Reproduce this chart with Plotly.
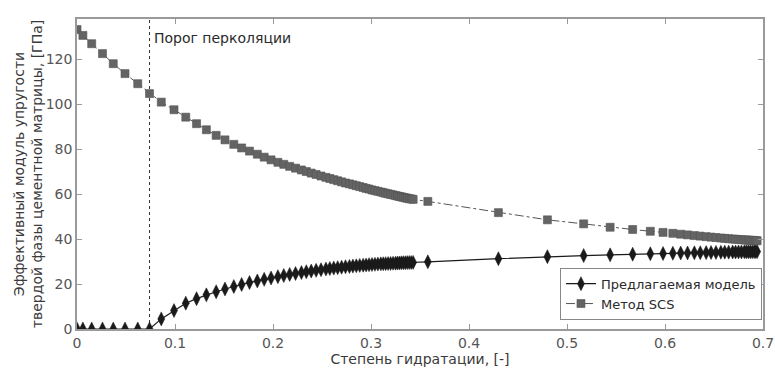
import plotly.graph_objects as go

# Hydration degree (x) shared by both series
hydration = [
    0.000, 0.006, 0.015, 0.026, 0.037, 0.049, 0.062, 0.074, 0.086, 0.099,
    0.111, 0.122, 0.132, 0.142, 0.151, 0.160, 0.168, 0.176, 0.184, 0.191,
    0.198, 0.205, 0.211, 0.217, 0.223, 0.229, 0.234, 0.239, 0.244, 0.249,
    0.254, 0.258, 0.262, 0.266, 0.270, 0.274, 0.278, 0.2815, 0.285, 0.2885,
    0.292, 0.295, 0.298, 0.301, 0.304, 0.307, 0.310, 0.3125, 0.315, 0.3175,
    0.320, 0.3225, 0.325, 0.327, 0.329, 0.331, 0.333, 0.335, 0.337, 0.339,
    0.341, 0.343,
    0.358, 0.430, 0.480, 0.517, 0.544, 0.567, 0.585, 0.598, 0.608,
    0.616, 0.623, 0.630, 0.636, 0.642, 0.647, 0.652, 0.657, 0.661, 0.665,
    0.669, 0.672, 0.675, 0.678, 0.681, 0.683, 0.685, 0.687, 0.689, 0.691,
    0.6925, 0.694,
]

# Proposed model, GPa
model_vals = [
    0.0, 0.0, 0.0, 0.0, 0.0, 0.0, 0.0, 0.0, 4.5, 8.2,
    11.5, 13.5, 15.2, 16.6, 17.8, 18.9, 19.8, 20.7, 21.4, 22.1,
    22.7, 23.3, 23.8, 24.3, 24.7, 25.1, 25.5, 25.8, 26.1, 26.4,
    26.7, 26.9, 27.1, 27.3, 27.5, 27.7, 27.85, 28.0, 28.15, 28.3,
    28.4, 28.5, 28.6, 28.7, 28.8, 28.9, 29.0, 29.05, 29.1, 29.15,
    29.2, 29.25, 29.3, 29.35, 29.4, 29.45, 29.5, 29.5, 29.55, 29.6,
    29.6, 29.65,
    29.9, 31.3, 32.2, 32.7, 33.0, 33.3, 33.5, 33.6, 33.7,
    33.8, 33.85, 33.9, 33.95, 34.0, 34.05, 34.1, 34.15, 34.2, 34.2,
    34.25, 34.25, 34.3, 34.3, 34.35, 34.35, 34.4, 34.4, 34.4, 34.45,
    34.45, 34.45,
]

# SCS method, GPa
scs_vals = [
    133.3, 130.7, 127.0, 122.6, 118.1, 113.7, 109.2, 104.8, 101.0, 97.6,
    94.3, 91.4, 88.7, 86.2, 84.2, 82.2, 80.6, 79.2, 77.8, 76.5,
    75.3, 74.2, 73.3, 72.4, 71.6, 70.8, 70.1, 69.4, 68.8, 68.1,
    67.5, 67.0, 66.5, 66.0, 65.5, 65.0, 64.6, 64.2, 63.8, 63.4,
    63.0, 62.6, 62.3, 61.9, 61.6, 61.3, 61.0, 60.7, 60.4, 60.2,
    59.9, 59.7, 59.4, 59.2, 59.0, 58.8, 58.6, 58.4, 58.2, 58.0,
    57.9, 57.7,
    56.8, 51.8, 48.6, 46.8, 45.3, 44.3, 43.5, 43.0, 42.6,
    42.2, 41.9, 41.6, 41.35, 41.1, 40.9, 40.7, 40.5, 40.35, 40.2,
    40.05, 39.95, 39.85, 39.75, 39.65, 39.6, 39.55, 39.5, 39.45, 39.4,
    39.35, 39.3,
]

perc_threshold = 0.074
perc_label = "Порог перколяции"
x_ticks = [0, 0.1, 0.2, 0.3, 0.4, 0.5, 0.6, 0.7]
x_tick_labels = ["0", "0.1", "0.2", "0.3", "0.4", "0.5", "0.6", "0.7"]
y_ticks = [0, 20, 40, 60, 80, 100, 120]
series_names = ["Предлагаемая модель", "Метод SCS"]

FONT = "DejaVu Sans, Liberation Sans, Arial, sans-serif"
TXT = "#3a3a3a"
AX = "#9a9a9a"

fig = go.Figure()

fig.add_trace(go.Scatter(
    x=hydration, y=model_vals, name=series_names[0], mode="lines+markers",
    line=dict(color="#1a1a1a", width=1.2),
    marker=dict(symbol="diamond-tall", size=10, color="#1a1a1a",
                line=dict(color="#1a1a1a", width=0.5)),
))
fig.add_trace(go.Scatter(
    x=hydration, y=scs_vals, name=series_names[1], mode="lines+markers",
    line=dict(color="#555555", width=1, dash="dashdot"),
    marker=dict(symbol="square", size=8, color="#646464",
                line=dict(color="#555555", width=0.6)),
))

fig.add_shape(type="line", xref="x", yref="paper",
              x0=perc_threshold, x1=perc_threshold, y0=0, y1=1,
              line=dict(color="#333333", width=1, dash="dot"), layer="below")

fig.add_annotation(x=perc_threshold, y=129.5, xref="x", yref="y",
                   text=perc_label, showarrow=False, xanchor="left",
                   xshift=2, yanchor="middle",
                   font=dict(family=FONT, size=14, color="#2a2a2a"))

fig.update_layout(
    width=775, height=370,
    margin=dict(l=77, r=12, t=19, b=41),
    paper_bgcolor="white", plot_bgcolor="white",
    font=dict(family=FONT, size=14, color=TXT),
    showlegend=True,
    legend=dict(x=0.9985, y=0.03, xanchor="right", yanchor="bottom",
                bgcolor="white", bordercolor="#888888", borderwidth=1,
                font=dict(family=FONT, size=13, color="#2a2a2a"),
                itemwidth=30, tracegroupgap=0, itemsizing="trace"),
)

fig.update_xaxes(
    range=[0, 0.7], tickvals=x_ticks, ticktext=x_tick_labels,
    ticks="inside", ticklen=5, tickcolor=AX, mirror="ticks",
    showline=True, linecolor=AX, linewidth=1.5, showgrid=False, zeroline=False,
    tickfont=dict(family=FONT, size=14, color="#555555"), ticklabelstandoff=0,
    automargin=False,
    title=dict(text="Степень гидратации, [-]", standoff=1,
               font=dict(family=FONT, size=14, color=TXT)),
)
fig.update_yaxes(
    range=[0, 138], tickvals=y_ticks,
    ticks="inside", ticklen=5, tickcolor=AX, mirror="ticks",
    showline=True, linecolor=AX, linewidth=1.5, showgrid=False, zeroline=False,
    tickfont=dict(family=FONT, size=14, color="#555555"),
    automargin=False,
    title=dict(text="Эффективный модуль упругости<br>твердой фазы цементной матрицы, [ГПа]",
               standoff=0, font=dict(family=FONT, size=14, color=TXT)),
)

assert len(hydration) == len(model_vals) == len(scs_vals)
fig.write_html("out.html")
